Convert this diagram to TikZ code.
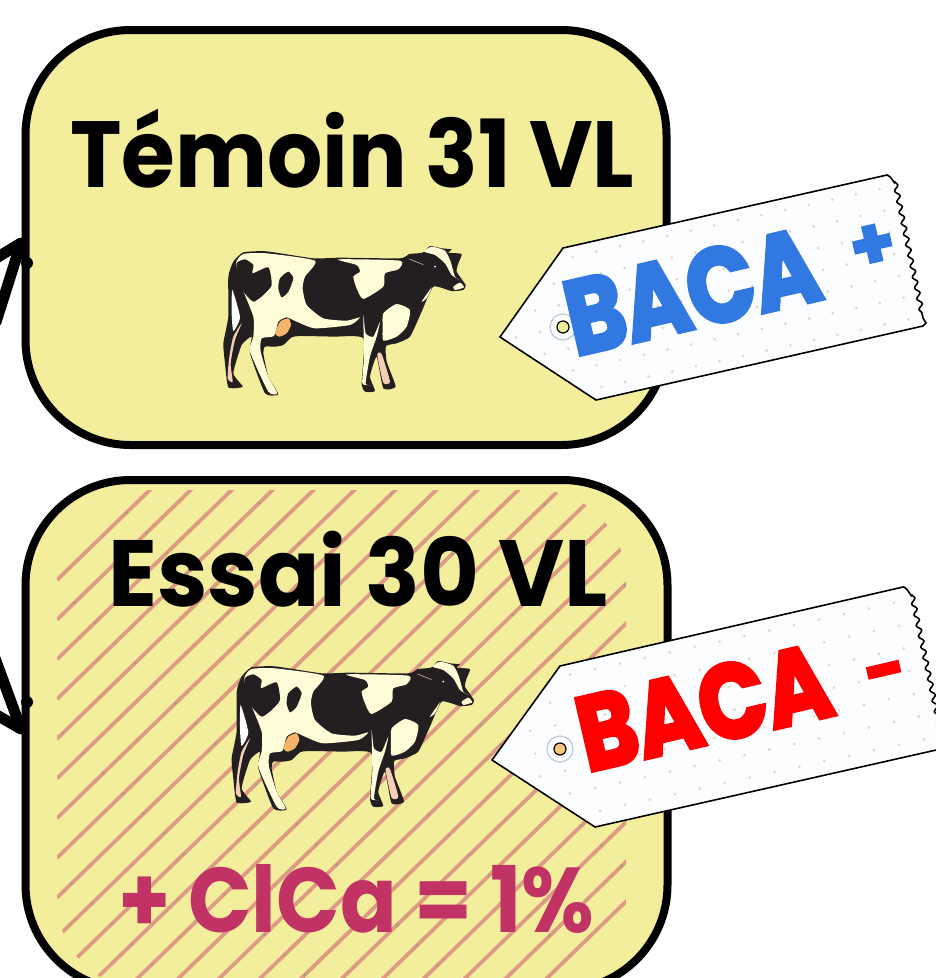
\documentclass[tikz,border=0pt]{standalone}
\usepackage{fontspec}
\setmainfont{Poppins}
\newfontfamily\brushfont[UprightFont=* Bold,FakeBold=4]{Poppins}
\usetikzlibrary{decorations.pathmorphing}
\definecolor{paper}{HTML}{F3EE9C}
\definecolor{hatch}{HTML}{DD9A85}
\definecolor{hatchdot}{HTML}{B39A80}
\definecolor{cowdark}{HTML}{231F20}
\definecolor{cowcream}{HTML}{FFFDD8}
\definecolor{cowudder}{HTML}{F4B56A}
\definecolor{cowpink}{HTML}{F5CDB5}
\definecolor{tagfill}{HTML}{FBFDFF}
\definecolor{tagdot}{HTML}{DEDAC8}
\definecolor{ring}{HTML}{C3CDD8}
\definecolor{plusblue}{HTML}{3178E0}
\definecolor{dose}{HTML}{C13265}
\tikzset{
  groupbox/.style={draw=black,line width=8pt,fill=paper,rounded corners=105pt,inner sep=0pt,outer sep=0pt,anchor=north west},
  headline/.style={anchor=base west,inner sep=0pt,text=black},
  arrowline/.style={draw=black,line width=11pt,line cap=round,line join=round},
  tagshape/.style={draw=black,line width=1.6pt,fill=tagfill},
  baca/.style={anchor=base west,inner sep=0pt,rotate=13,font=\brushfont\fontsize{86}{86}\selectfont},
  sign/.style={anchor=center,inner sep=0pt,rotate=13,font=\brushfont\fontsize{70}{70}\selectfont},
}
\newcommand\cowshape[1]{\fill[#1] plot[smooth cycle,tension=.35] coordinates}
\newcommand\drawcow{%
  \fill[cowdark] plot[smooth cycle,tension=.3] coordinates {(100,95)(130,67)(200,64)(340,85)(420,83)(600,85)(628,72)(668,68)(690,48)(725,55)(755,58)(745,68)(785,72)(775,100)(770,125)(797,165)(790,180)(755,183)(700,170)(665,245)(630,320)(590,340)(558,348)(560,395)(587,470)(550,475)(530,380)(510,440)(525,483)(495,485)(485,460)(490,325)(400,320)(300,318)(275,322)(250,345)(225,350)(195,350)(190,370)(205,440)(235,493)(195,490)(150,370)(155,320)(125,345)(100,430)(128,470)(85,472)(75,400)(70,340)(85,260)(85,140)};
  \cowshape{cowcream} {(108,100)(130,72)(200,70)(345,92)(315,140)(308,175)(320,225)(370,265)(440,272)(480,262)(450,285)(345,295)(290,275)(260,262)(235,275)(222,318)(185,325)(182,365)(205,440)(232,490)(205,485)(150,365)(160,320)(160,260)(125,170)};
  \cowshape{cowdark} {(110,100)(135,88)(160,105)(158,130)(205,112)(215,165)(190,195)(160,215)(130,185)(112,150)};
  \cowshape{cowdark} {(240,145)(265,125)(280,145)(265,185)(245,202)(235,175)};
  \cowshape{cowcream} {(415,88)(600,92)(595,118)(555,130)(550,170)(490,207)(470,175)(460,140)(480,125)(470,105)};
  \cowshape{cowcream} {(550,250)(590,222)(630,240)(620,290)(590,320)(550,332)(548,290)};
  \cowshape{cowcream} {(490,255)(497,310)(520,320)(540,275)(530,320)(510,380)(497,460)(512,465)(487,460)(492,380)};
  \cowshape{cowcream} {(672,65)(695,50)(735,62)(752,95)(765,140)(780,150)(755,135)(735,100)(705,75)};
  \cowshape{cowcream} {(760,170)(780,158)(792,172)(765,180)};
  \cowshape{cowcream} {(665,215)(695,172)(680,205)};
  \cowshape{cowudder} {(225,310)(240,275)(265,265)(273,285)(260,310)(238,320)};
  \cowshape{white} {(97,180)(120,262)(100,303)(95,250)};
  \cowshape{cowpink} {(125,280)(100,320)(88,380)(83,445)(98,455)(92,400)(105,330)};
  \cowshape{cowpink} {(532,375)(545,372)(570,455)(550,458)};
  \fill[white] (705,110) circle (3);
  \draw[cowpink,line width=.5pt] (628,87) -- (670,104);
}
\begin{document}
\begin{tikzpicture}[x=1pt,y=-1pt]
\useasboundingbox (0,0) rectangle (936,978);
\begin{scope}
\clip (0,0) rectangle (936,978);

% incoming arrows (their tails lie outside the frame)
\coordinate (ta) at (-4,322);
\coordinate (tb) at (-12,263);
\coordinate (th) at (21,243);
\coordinate (tk) at (27,263);
\coordinate (ea) at (-8,650);
\coordinate (eb) at (-12,710);
\coordinate (eh) at (21,729);
\coordinate (ek) at (27,702);

% group boxes
\node[groupbox,minimum width=641pt,minimum height=415pt] (temoin) at (25.5,30) {};
\node[groupbox,minimum width=642pt,minimum height=510pt] (essai) at (25.5,480) {};

\draw[arrowline] (ta) -- (th);
\draw[arrowline] (tb) -- (th);
\fill (tk) circle (6);
\draw[arrowline] (ea) -- (eh);
\draw[arrowline] (eb) -- (eh);
\fill (ek) circle (6);

% hatching
\begin{scope}
\clip[rounded corners=90pt] (57,490) rectangle (626,990);
\foreach \k in {0,...,25}{
  \pgfmathsetmacro\ya{580+39.7*\k}
  \pgfmathsetmacro\yb{\ya-0.97*(640-57)}
  \draw[hatch,line width=3.8pt] (57,\ya) -- (640,\yb);
  \foreach \m in {-3,...,5}{
    \pgfmathsetmacro\xd{(\ya+55.3-(670-142*\m))/1.97}
    \pgfmathsetmacro\yd{\xd+670-142*\m}
    \fill[hatchdot] (\xd,\yd) circle (1.6);
  }
}
\end{scope}

% cows
\begin{scope}[shift={(200,230)},x=.3333pt,y=-.3333pt]\drawcow\end{scope}
\begin{scope}[shift={(208.3,645)},x=.3333pt,y=-.3333pt]\drawcow\end{scope}

% titles
\node[headline,font=\bfseries\fontsize{87}{87}\selectfont] (ttitle) at (70,187) {\scalebox{1}[1.08]{Témoin 31 VL}};
\node[headline,font=\bfseries\fontsize{90.5}{90}\selectfont] (etitle) at (108,606) {\scalebox{1}[1.04]{Essai 30 VL}};
\node[headline,text=dose,font=\bfseries\fontsize{83.5}{84}\selectfont] (dosage) at (118,932) {\scalebox{1}[1.1]{+ ClCa = 1\%}};

% tag 1
\begin{scope}
\path[tagshape,decoration={snake,amplitude=2.2pt,segment length=11pt}]
  (500,337) -- (563,248) -- (887,175) to[out=0,in=-90] (895,182) decorate {-- (923,318)} -- (926,323) -- (923,326) -- (596,400) -- cycle;
\clip (500,337) -- (563,248) -- (887,175) -- (895,182) -- (923,318) -- (926,323) -- (596,400) -- cycle;
\foreach \i in {-3,...,15}\foreach \j in {0,...,7}
  \fill[tagdot] ({572.7+23.6*\i+4.8*\j},{256.7-5.2*\i+21.7*\j}) circle (1.5);
\end{scope}
\draw[ring,line width=1.3pt] (563,327) circle (13);
\draw[black,line width=1.2pt,fill=paper] (563,327) circle (6);
\node[baca,text=plusblue] (bacaplus) at (575,356) {\scalebox{1.03}[1.22]{BACA}};
\node[sign,text=plusblue] (plus) at (873,247) {+};

% tag 2
\begin{scope}
\path[tagshape,decoration={snake,amplitude=2.2pt,segment length=11pt}]
  (492,760) -- (560,666) -- (903,587) to[out=0,in=-90] (912,595) decorate {-- (943,742)} -- (945,748) -- (595,827) -- cycle;
\clip (492,760) -- (560,666) -- (903,587) -- (912,595) -- (943,742) -- (945,748) -- (595,827) -- cycle;
\foreach \i in {-3,...,15}\foreach \j in {0,...,7}
  \fill[tagdot] ({595+24.9*\i+5*\j},{669-5.5*\i+22.7*\j}) circle (1.5);
\end{scope}
\draw[ring,line width=1.3pt] (560,749) circle (13);
\draw[black,line width=1.2pt,fill=cowudder!70!paper] (560,749) circle (6);
\node[baca,text=red] (bacaminus) at (587,772) {\scalebox{1.03}[1.22]{BACA}};
\node[sign,text=red] (minus) at (887,679) {-};
\end{scope}
\end{tikzpicture}
\end{document}
